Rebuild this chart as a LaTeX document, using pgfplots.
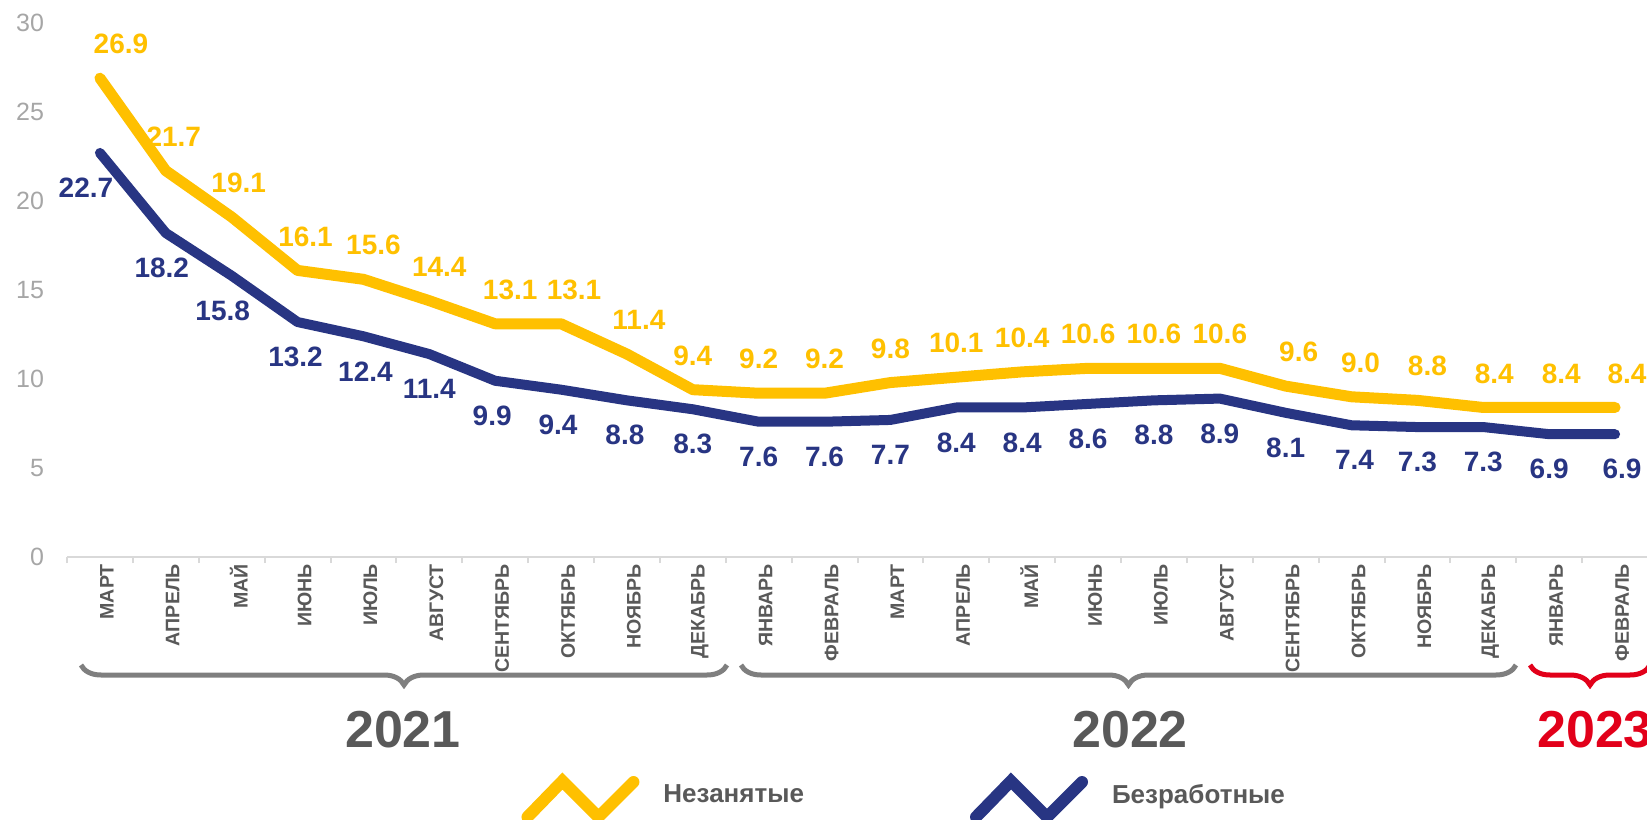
\documentclass[border=0pt]{standalone}
\usepackage{fontspec}
\setmainfont{Liberation Sans}
\usepackage{pgfplots}
\pgfplotsset{compat=1.18}
\usepackage{pgfplotstable}
\usetikzlibrary{decorations.pathreplacing}

\definecolor{cYel}{HTML}{FFC000}
\definecolor{cNavy}{HTML}{283583}
\definecolor{cText}{HTML}{595959}
\definecolor{cTick}{HTML}{A6A6A6}
\definecolor{cBrace}{HTML}{7F7F7F}
\definecolor{cRed}{HTML}{E2001A}
\definecolor{cAxis}{HTML}{D9D9D9}

\pgfplotstableread{
x u b du db
0 26.9 22.7 21 -14
1 21.7 18.2 8 -4
2 19.1 15.8 7 -9
3 16.1 13.2 8 -2
4 15.6 12.4 10 2
5 14.4 11.4 10 0
6 13.1 9.9 15 -3
7 13.1 9.4 13 -3
8 11.4 8.8 12 -2
9 9.4 8.3 0 0
10 9.2 7.6 0 0
11 9.2 7.6 0 0
12 9.8 7.7 0 0
13 10.1 8.4 0 0
14 10.4 8.4 0 0
15 10.6 8.6 0 0
16 10.6 8.8 0 0
17 10.6 8.9 0 0
18 9.6 8.1 13 0
19 9.0 7.4 9 3
20 8.8 7.3 10 0
21 8.4 7.3 11 0
22 8.4 6.9 12 0
23 8.4 6.9 12 7
}\data

\begin{document}
\begin{tikzpicture}
\begin{axis}[
  at={(33.5pt,131pt)}, anchor=south west,
  width=790.5pt, height=267pt, scale only axis,
  xmin=-0.5, xmax=23.5, ymin=0, ymax=30,
  clip=false,
  axis x line*=bottom, axis y line*=left,
  x axis line style={cAxis, line width=1pt},
  y axis line style={draw=none},
  tick align=outside,
  major tick length=0pt,
  tick style={cAxis, line width=1pt},
  ytick={0,5,...,30},
  yticklabel style={font=\fontsize{12.5}{14}\selectfont, text=cTick, xshift=-8pt},
  xtick={0,...,23},
  xticklabels={МАРТ,АПРЕЛЬ,МАЙ,ИЮНЬ,ИЮЛЬ,АВГУСТ,СЕНТЯБРЬ,ОКТЯБРЬ,НОЯБРЬ,ДЕКАБРЬ,ЯНВАРЬ,ФЕВРАЛЬ,МАРТ,АПРЕЛЬ,МАЙ,ИЮНЬ,ИЮЛЬ,АВГУСТ,СЕНТЯБРЬ,ОКТЯБРЬ,НОЯБРЬ,ДЕКАБРЬ,ЯНВАРЬ,ФЕВРАЛЬ},
  xticklabel style={rotate=90, anchor=east, font=\bfseries\fontsize{9.8}{11}\selectfont, text=cText, yshift=-3.5pt},
  extra x ticks={-0.5,0.5,...,23.5},
  extra x tick labels={},
  extra x tick style={major tick length=3pt},
  /pgf/number format/assume math mode=true,
  legend columns=2,
  legend style={at={(axis description cs:0.2872,-0.4532)}, anchor=west, draw=none, fill=none, inner sep=0pt,
    font=\bfseries\fontsize{13}{15}\selectfont, text=cText,
    /tikz/every odd column/.append style={column sep=10pt},
    /tikz/every even column/.append style={column sep=81pt}},
]
\addplot[cYel, line width=5.5pt, line cap=round, line join=round,
  legend image code/.code={\draw[cYel, line width=6pt, line join=miter] (0pt,-11pt) -- (17.5pt,7pt) -- (35.5pt,-11pt) -- (53pt,6.5pt);},
  nodes near coords={\pgfmathprintnumber[fixed,fixed zerofill,precision=1,assume math mode=true]{\pgfplotspointmeta}},
  visualization depends on={\thisrow{du} \as \dx},
  every node near coord/.append style={anchor=center, yshift=17pt, xshift=\dx*0.5pt, font=\bfseries\fontsize{14}{16}\selectfont, text=cYel},
] table[x=x, y=u] {\data};
\addlegendentry{Незанятые}
\addplot[cNavy, line width=5pt, line cap=round, line join=round,
  legend image code/.code={\draw[cNavy, line width=6pt, line join=miter] (0pt,-11pt) -- (17.5pt,7pt) -- (35.5pt,-11pt) -- (53pt,6.5pt);},
  nodes near coords={\pgfmathprintnumber[fixed,fixed zerofill,precision=1,assume math mode=true]{\pgfplotspointmeta}},
  visualization depends on={\thisrow{db} \as \dx},
  every node near coord/.append style={anchor=center, yshift=-17.5pt, xshift=\dx*0.5pt, font=\bfseries\fontsize{14}{16}\selectfont, text=cNavy},
] table[x=x, y=b] {\data};
\addlegendentry{Безработные}
\end{axis}
% year braces
\draw[decorate, decoration={brace, mirror, amplitude=10pt}, line width=2.5pt, cBrace] (40.5pt,77pt) -- (363.5pt,77pt);
\draw[decorate, decoration={brace, mirror, amplitude=10pt}, line width=2.5pt, cBrace] (370.5pt,77pt) -- (758pt,77pt);
\draw[decorate, decoration={brace, mirror, amplitude=10pt}, line width=2.5pt, cRed] (765pt,77pt) -- (825pt,77pt);
\node[font=\bfseries\fontsize{26}{30}\selectfont, text=cText] at (201.5pt,44.5pt) {2021};
\node[font=\bfseries\fontsize{26}{30}\selectfont, text=cText] at (565pt,44.5pt) {2022};
\node[font=\bfseries\fontsize{26}{30}\selectfont, text=cRed] at (797.5pt,44.5pt) {2023};
\pgfresetboundingbox
\path[use as bounding box] (0pt,0pt) rectangle (823.5pt,409.5pt);
\end{tikzpicture}
\end{document}
